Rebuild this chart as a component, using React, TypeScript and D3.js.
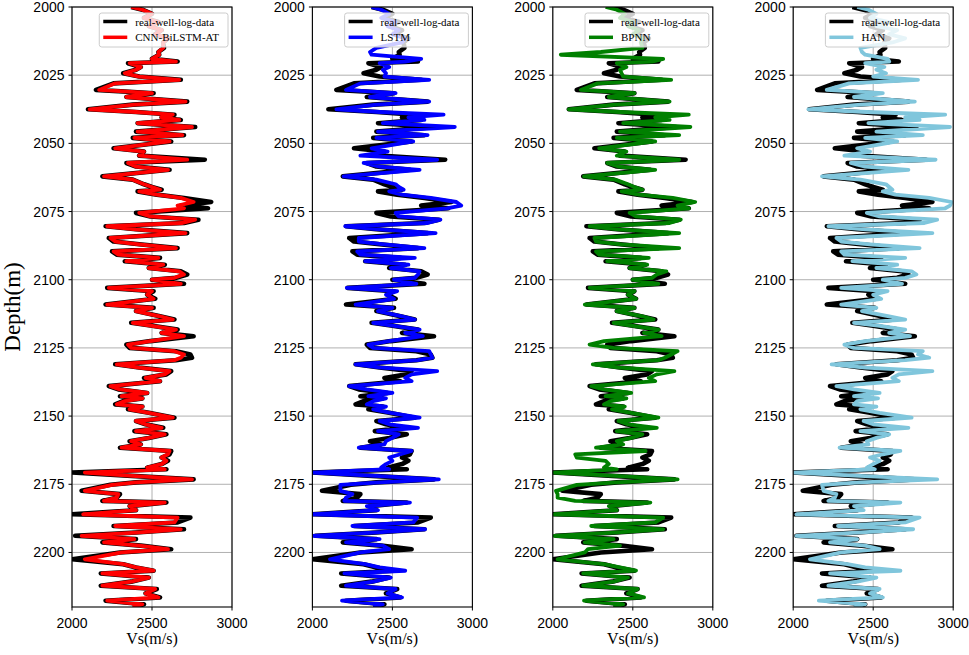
import React, { useEffect, useRef } from 'react';
import * as d3 from 'd3';

// depth samples (m), shared by every series
const depths = [
  2000.0, 2001.0, 2002.5, 2004.0, 2005.5, 2007.0, 2008.5, 2010.0, 2011.5, 2013.0,
  2015.0, 2016.5, 2017.5, 2019.0, 2020.0, 2020.6, 2022.0, 2023.0, 2024.3, 2025.5,
  2026.7, 2028.0, 2030.4, 2031.6, 2033.0, 2034.7, 2035.8, 2037.5, 2038.5, 2039.5,
  2040.5, 2041.4, 2042.6, 2044.0, 2045.7, 2047.0, 2048.0, 2049.3, 2051.8, 2053.0,
  2054.5, 2056.0, 2057.2, 2058.5, 2059.7, 2062.1, 2063.3, 2065.0, 2066.0, 2067.0,
  2067.6, 2068.8, 2070.0, 2071.5, 2072.8, 2073.8, 2075.5, 2076.8, 2078.0, 2079.2,
  2080.4, 2081.5, 2082.9, 2084.7, 2086.0, 2087.0, 2088.4, 2089.6, 2090.8, 2092.0,
  2093.2, 2094.5, 2095.7, 2096.9, 2098.1, 2099.3, 2100.0, 2101.5, 2103.0, 2104.2,
  2105.5, 2107.0, 2109.1, 2110.3, 2111.5, 2113.4, 2114.6, 2115.8, 2116.8, 2118.3,
  2119.5, 2120.7, 2122.5, 2123.8, 2125.0, 2126.2, 2127.4, 2128.6, 2129.5, 2131.0,
  2132.2, 2133.5, 2134.7, 2136.0, 2137.2, 2139.0, 2140.2, 2141.5, 2142.7, 2143.5,
  2144.5, 2145.7, 2146.5, 2147.5, 2148.8, 2150.6, 2151.8, 2153.0, 2154.3, 2155.5,
  2156.7, 2158.0, 2159.2, 2160.4, 2161.6, 2162.8, 2164.0, 2165.2, 2166.4, 2167.6,
  2168.9, 2169.5, 2170.7, 2172.0, 2173.2, 2174.3, 2175.2, 2177.4, 2178.6, 2179.9,
  2181.1, 2181.7, 2183.0, 2184.5, 2186.0, 2187.2, 2189.0, 2190.3, 2191.5, 2192.7,
  2193.9, 2195.1, 2196.3, 2197.5, 2198.8, 2200.0, 2202.5, 2204.3, 2205.5, 2206.7,
  2207.7, 2209.2, 2210.7, 2212.2, 2213.4, 2215.0, 2216.5, 2217.7, 2219.0, 2220.0,
];

const realVs = [
  2370, 2440, 2500, 2450, 2540, 2480, 2560, 2520, 2600, 2570,
  2575, 2540, 2545, 2500, 2660, 2350, 2430, 2400, 2320, 2420,
  2680, 2260, 2150, 2510, 2340, 2720, 2380, 2100, 2400, 2640,
  2560, 2680, 2410, 2770, 2400, 2700, 2380, 2620, 2260, 2450,
  2420, 2830, 2340, 2400, 2610, 2190, 2380, 2450, 2500, 2560,
  2410, 2530, 2700, 2870, 2680, 2850, 2400, 2490, 2790, 2700,
  2210, 2400, 2720, 2230, 2260, 2420, 2660, 2250, 2280, 2550,
  2330, 2580, 2480, 2680, 2720, 2650, 2500, 2700, 2220, 2510,
  2470, 2520, 2210, 2510, 2400, 2550, 2640, 2370, 2490, 2660,
  2560, 2760, 2490, 2340, 2360, 2650, 2740, 2750, 2650, 2270,
  2420, 2620, 2590, 2450, 2550, 2230, 2290, 2470, 2300, 2440,
  2320, 2270, 2440, 2350, 2480, 2640, 2400, 2460, 2570, 2390,
  2590, 2480, 2360, 2430, 2300, 2620, 2610, 2560, 2600, 2560,
  2470, 2590, 2000, 2400, 2760, 2400, 2240, 2060, 2300, 2280,
  2190, 2590, 2360, 2400, 2000, 2740, 2660, 2260, 2700, 2400,
  2020, 2400, 2190, 2430, 2620, 2300, 2000, 2320, 2400, 2510,
  2180, 2480, 2370, 2180, 2530, 2460, 2550, 2210, 2450, 2380,
];

const cnnBiLstmAtVs = [
  2370, 2440, 2500, 2450, 2540, 2480, 2560, 2520, 2600, 2570,
  2570, 2540, 2545, 2500, 2650, 2360, 2430, 2400, 2330, 2420,
  2670, 2270, 2170, 2500, 2340, 2710, 2390, 2110, 2400, 2630,
  2560, 2670, 2410, 2750, 2410, 2690, 2390, 2610, 2270, 2450,
  2420, 2720, 2350, 2400, 2600, 2200, 2380, 2450, 2500, 2550,
  2420, 2530, 2680, 2760, 2660, 2700, 2420, 2490, 2770, 2690,
  2220, 2400, 2710, 2240, 2270, 2420, 2650, 2260, 2290, 2540,
  2340, 2570, 2480, 2670, 2700, 2640, 2500, 2680, 2230, 2500,
  2470, 2510, 2220, 2500, 2400, 2550, 2630, 2380, 2490, 2650,
  2560, 2700, 2490, 2350, 2370, 2640, 2700, 2680, 2640, 2280,
  2420, 2610, 2580, 2460, 2550, 2240, 2300, 2470, 2310, 2440,
  2330, 2280, 2440, 2360, 2480, 2630, 2400, 2460, 2560, 2400,
  2580, 2480, 2370, 2430, 2310, 2610, 2600, 2560, 2590, 2560,
  2470, 2580, 2080, 2400, 2750, 2400, 2250, 2080, 2290, 2280,
  2200, 2580, 2360, 2400, 2070, 2660, 2640, 2270, 2680, 2400,
  2060, 2390, 2200, 2420, 2600, 2310, 2080, 2320, 2400, 2510,
  2190, 2480, 2370, 2190, 2520, 2460, 2540, 2220, 2440, 2380,
];

const lstmVs = [
  2370, 2430, 2480, 2430, 2520, 2470, 2540, 2500, 2580, 2560,
  2400, 2360, 2370, 2680, 2580, 2420, 2480, 2440, 2460, 2450,
  2730, 2300, 2210, 2520, 2360, 2730, 2400, 2150, 2420, 2820,
  2600, 2700, 2440, 2890, 2410, 2720, 2400, 2630, 2370, 2470,
  2300, 2780, 2320, 2420, 2670, 2195, 2400, 2520, 2540, 2570,
  2480, 2560, 2740, 2900, 2930, 2840, 2520, 2540, 2800, 2720,
  2205, 2420, 2770, 2290, 2290, 2450, 2700, 2280, 2300, 2640,
  2330, 2600, 2490, 2670, 2660, 2640, 2510, 2650, 2215, 2530,
  2460, 2510, 2270, 2500, 2410, 2560, 2640, 2380, 2500, 2670,
  2580, 2690, 2480, 2350, 2380, 2730, 2740, 2750, 2660, 2270,
  2430, 2780, 2620, 2580, 2620, 2230, 2340, 2500, 2350, 2460,
  2380, 2340, 2460, 2380, 2490, 2670, 2420, 2480, 2660, 2410,
  2540, 2500, 2460, 2450, 2290, 2620, 2550, 2480, 2500, 2460,
  2430, 2480, 2000, 2420, 2790, 2420, 2175, 2175, 2250, 2210,
  2200, 2610, 2340, 2410, 2000, 2655, 2630, 2250, 2705, 2380,
  2000, 2420, 2210, 2440, 2480, 2300, 2110, 2330, 2420, 2580,
  2200, 2490, 2380, 2210, 2520, 2470, 2560, 2185, 2440, 2380,
];

const bpnnVs = [
  2330, 2400, 2450, 2420, 2500, 2470, 2540, 2500, 2560, 2550,
  2560, 2300, 2050, 2690, 2620, 2400, 2460, 2420, 2430, 2440,
  2740, 2280, 2175, 2510, 2350, 2730, 2390, 2100, 2420, 2850,
  2640, 2730, 2440, 2860, 2420, 2790, 2400, 2640, 2290, 2460,
  2400, 2790, 2340, 2410, 2640, 2195, 2390, 2470, 2510, 2560,
  2430, 2540, 2750, 2890, 2780, 2850, 2480, 2520, 2800, 2730,
  2230, 2410, 2790, 2260, 2270, 2430, 2790, 2270, 2290, 2600,
  2340, 2590, 2480, 2710, 2650, 2620, 2500, 2660, 2230, 2510,
  2470, 2520, 2200, 2510, 2400, 2560, 2630, 2380, 2490, 2660,
  2570, 2680, 2320, 2230, 2380, 2780, 2740, 2700, 2660, 2250,
  2420, 2760, 2650, 2600, 2640, 2240, 2320, 2490, 2330, 2460,
  2360, 2320, 2450, 2370, 2490, 2660, 2410, 2470, 2650, 2400,
  2560, 2490, 2400, 2440, 2270, 2580, 2140, 2150, 2330, 2350,
  2320, 2400, 2008, 2420, 2780, 2400, 2150, 2020, 2030, 2030,
  2140, 2610, 2350, 2400, 2008, 2690, 2640, 2240, 2690, 2380,
  2008, 2380, 2200, 2420, 2220, 2200, 2030, 2320, 2420, 2520,
  2190, 2470, 2380, 2190, 2530, 2470, 2570, 2195, 2440, 2380,
];

const hanVs = [
  2400, 2470, 2520, 2480, 2600, 2520, 2650, 2600, 2700, 2620,
  2420, 2430, 2450, 2590, 2600, 2450, 2570, 2520, 2580, 2500,
  2780, 2350, 2210, 2560, 2380, 2760, 2420, 2095, 2460, 2950,
  2700, 2790, 2470, 2980, 2520, 2810, 2450, 2650, 2400, 2480,
  2320, 2890, 2360, 2450, 2720, 2180, 2420, 2580, 2600, 2620,
  2560, 2640, 2850, 2990, 2980, 2950, 2460, 2540, 2900, 2820,
  2220, 2450, 2870, 2270, 2300, 2480, 2790, 2300, 2320, 2700,
  2370, 2650, 2520, 2740, 2770, 2700, 2560, 2680, 2300, 2590,
  2500, 2550, 2300, 2520, 2430, 2600, 2700, 2380, 2530, 2700,
  2600, 2730, 2450, 2320, 2380, 2810, 2780, 2850, 2700, 2240,
  2450, 2870, 2660, 2620, 2660, 2270, 2380, 2540, 2380, 2530,
  2400, 2380, 2520, 2420, 2540, 2740, 2440, 2500, 2720, 2420,
  2600, 2520, 2460, 2470, 2290, 2670, 2560, 2480, 2540, 2500,
  2460, 2510, 2000, 2450, 2900, 2420, 2180, 2190, 2270, 2260,
  2220, 2670, 2380, 2440, 2020, 2790, 2700, 2280, 2750, 2400,
  2020, 2400, 2230, 2450, 2540, 2300, 2105, 2340, 2450, 2670,
  2230, 2520, 2400, 2220, 2540, 2480, 2560, 2160, 2450, 2380,
];

const modelNames = ['CNN-BiLSTM-AT', 'LSTM', 'BPNN', 'HAN'];
const modelColors = ['#ff0000', '#0000ff', '#008000', '#80c6dc'];
const modelSeries = [cnnBiLstmAtVs, lstmVs, bpnnVs, hanVs];
const realLabel = 'real-well-log-data';

const xTicks = [2000, 2500, 3000];
const yTicks = [2000, 2025, 2050, 2075, 2100, 2125, 2150, 2175, 2200];

const W = 969;
const H = 655;
const SANS = 'Arial, "Liberation Sans", sans-serif';
const SERIF = '"Times New Roman", "Liberation Serif", serif';

const App: React.FC = () => {
  const svgRef = useRef<SVGSVGElement | null>(null);

  useEffect(() => {
    if (!svgRef.current) return;
    const svg = d3.select(svgRef.current);
    svg.selectAll('*').remove();

    const top = 7;
    const bottom = 607;
    const panelW = 160;
    const firstLeft = 72;
    const step = 240.4;

    const y = d3.scaleLinear().domain([2000, 2220]).range([top, bottom]);

    // y label
    svg.append('text')
      .attr('transform', `translate(20,${(top + bottom) / 2}) rotate(-90)`)
      .attr('text-anchor', 'middle')
      .style('font-family', SERIF)
      .style('font-size', '23px')
      .text('Depth(m)');

    modelNames.forEach((name, i) => {
      const left = firstLeft + i * step;
      const x = d3.scaleLinear().domain([2000, 3000]).range([left, left + panelW]);
      const g = svg.append('g');

      const clipId = `clip-${i}`;
      svg.append('defs').append('clipPath').attr('id', clipId)
        .append('rect')
        .attr('x', left).attr('y', top)
        .attr('width', panelW).attr('height', bottom - top);

      // grid
      g.selectAll('.vgrid').data(xTicks).enter().append('line')
        .attr('x1', d => x(d)).attr('x2', d => x(d))
        .attr('y1', top).attr('y2', bottom)
        .attr('stroke', '#b0b0b0').attr('stroke-width', 1);
      g.selectAll('.hgrid').data(yTicks).enter().append('line')
        .attr('x1', left).attr('x2', left + panelW)
        .attr('y1', d => y(d)).attr('y2', d => y(d))
        .attr('stroke', '#b0b0b0').attr('stroke-width', 1);

      const plot = g.append('g').attr('clip-path', `url(#${clipId})`);

      const logLine = d3.line<number>()
        .x(d => x(d))
        .y((_, j) => y(depths[j]));

      plot.append('path')
        .attr('d', logLine(realVs) as string)
        .attr('fill', 'none')
        .attr('stroke', '#000000')
        .attr('stroke-width', 4.6)
        .attr('stroke-linejoin', 'round');

      plot.append('path')
        .attr('d', logLine(modelSeries[i]) as string)
        .attr('fill', 'none')
        .attr('stroke', modelColors[i])
        .attr('stroke-width', 3.8)
        .attr('stroke-linejoin', 'round');

      // frame
      g.append('rect')
        .attr('x', left).attr('y', top)
        .attr('width', panelW).attr('height', bottom - top)
        .attr('fill', 'none').attr('stroke', '#000').attr('stroke-width', 1.1);

      // y ticks
      yTicks.forEach(t => {
        g.append('line')
          .attr('x1', left - 3.5).attr('x2', left)
          .attr('y1', y(t)).attr('y2', y(t))
          .attr('stroke', '#000').attr('stroke-width', 1);
        g.append('text')
          .attr('x', left - 7.5).attr('y', y(t)).attr('dy', '0.36em')
          .attr('text-anchor', 'end')
          .style('font-family', SANS).style('font-size', '14px')
          .text(t);
      });

      // x ticks
      xTicks.forEach(t => {
        g.append('line')
          .attr('x1', x(t)).attr('x2', x(t))
          .attr('y1', bottom).attr('y2', bottom + 3.5)
          .attr('stroke', '#000').attr('stroke-width', 1);
        g.append('text')
          .attr('x', x(t)).attr('y', 628)
          .attr('text-anchor', 'middle')
          .style('font-family', SANS).style('font-size', '14px')
          .text(t);
      });

      g.append('text')
        .attr('x', left + panelW / 2).attr('y', 644)
        .attr('text-anchor', 'middle')
        .style('font-family', SERIF).style('font-size', '16px')
        .text('Vs(m/s)');

      // legend
      const lg = g.append('g');
      const box = lg.append('rect')
        .attr('fill', 'white').attr('fill-opacity', 0.8)
        .attr('stroke', '#cccccc').attr('stroke-width', 1)
        .attr('rx', 2.5);
      const entries = [
        { label: realLabel, color: '#000000' },
        { label: name, color: modelColors[i] },
      ];
      let maxW = 0;
      const texts = entries.map((e, k) => {
        const t = lg.append('text')
          .attr('y', top + 14.5 + k * 15.8 + 4)
          .style('font-family', SERIF).style('font-size', '11px')
          .text(e.label);
        const w = (t.node() as SVGTextElement).getComputedTextLength();
        if (w > maxW) maxW = w;
        return t;
      });
      const boxW = maxW + 45;
      const boxX = left + panelW - 4 - boxW;
      box.attr('x', boxX).attr('y', top + 6).attr('width', boxW).attr('height', 34);
      entries.forEach((e, k) => {
        const ly = top + 14.5 + k * 15.8;
        lg.append('line')
          .attr('x1', boxX + 4).attr('x2', boxX + 28)
          .attr('y1', ly).attr('y2', ly)
          .attr('stroke', e.color).attr('stroke-width', 3.5);
        texts[k].attr('x', boxX + 36);
      });
    });
  }, []);

  return (
    <svg
      ref={svgRef}
      width={W}
      height={H}
      style={{ position: 'absolute', left: 0, top: 0, background: 'white' }}
    />
  );
};

export default App;
